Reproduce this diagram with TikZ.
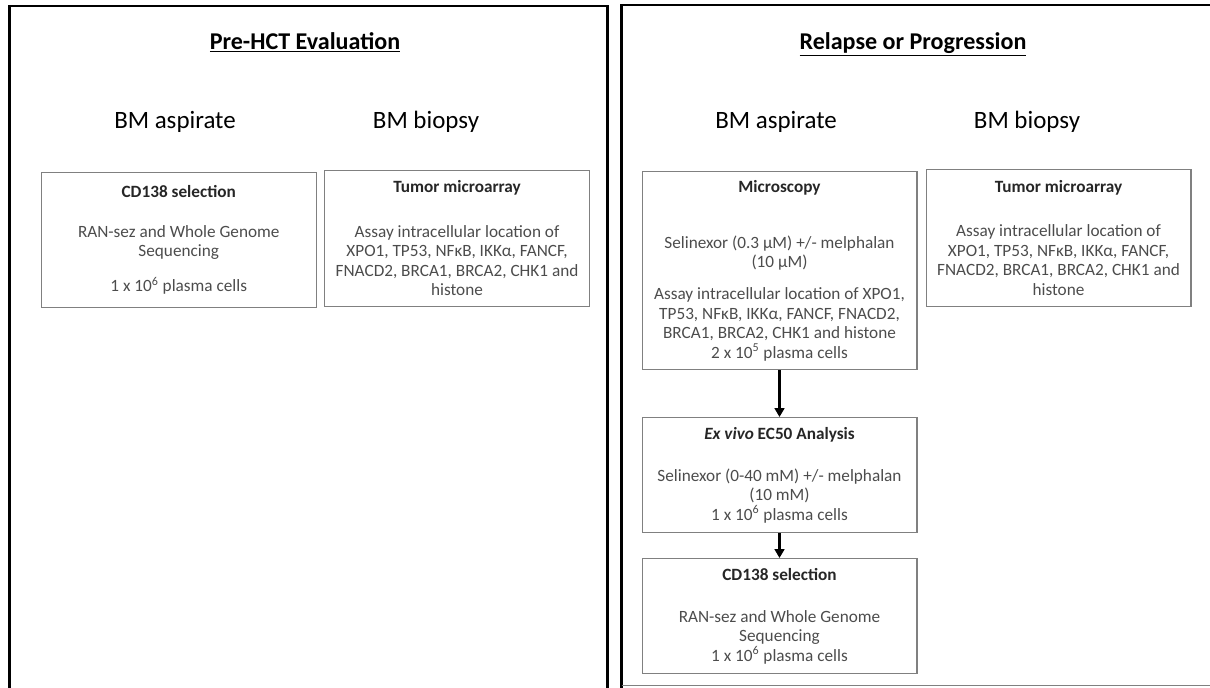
\documentclass[tikz,border=0pt]{standalone}
\usepackage{fontspec}
\setmainfont{Carlito}
\usetikzlibrary{arrows.meta}

\definecolor{boxgray}{gray}{0.5}
\definecolor{textgray}{gray}{0.3}
\tikzset{
  panel/.style={line width=1.7pt, draw=black},
  stagebox/.style={draw=boxgray, line width=0.6pt, anchor=north, align=center,
    inner sep=2pt, text=textgray, font=\fontsize{9.8}{11.1}\selectfont},
  widebox/.style={stagebox, minimum width=5.5cm},
  narrowbox/.style={stagebox, minimum width=5.3cm},
  sampletitle/.style={font=\fontsize{14.2}{16}\selectfont},
  paneltitle/.style={anchor=base, font=\bfseries\fontsize{13.7}{16}\selectfont},
  flowarrow/.style={line width=1.2pt, -{Triangle[length=5pt,width=5.5pt]}}
}
\newcommand{\boxhead}[1]{\textbf{\color{black!85}#1}}

\begin{document}
\begin{tikzpicture}[x=0.02cm, y=-0.02cm]
    \useasboundingbox (0,0) rectangle (1210,687);
    \clip (0,0) rectangle (1210,687);
    % the two panels
    \draw[panel] (9.5,6) rectangle (607,700);
    \draw[panel] (621.5,700) |- (1220,5);
    \draw[boxgray, line width=0.6pt] (621.5,685.5) -- (1220,685.5);
    % titles
    \node[paneltitle] (pre) at (305,49) {\underline{Pre-HCT Evaluation}};
    \node[paneltitle] (rel) at (913,49) {\underline{Relapse or Progression}};
    \node[sampletitle] (aspL) at (175,122) {BM aspirate};
    \node[sampletitle] (bioL) at (426,122) {BM biopsy};
    \node[sampletitle] (aspR) at (776,122) {BM aspirate};
    \node[sampletitle] (bioR) at (1027,122) {BM biopsy};
    % pre-HCT boxes
    \node[widebox, minimum height=2.7cm] (cdL) at (178.75,172)
      {\boxhead{CD138 selection}\\[11.4pt]
       RAN-sez and Whole Genome\\
       Sequencing\\[9pt]
       1 x 10\textsuperscript{6} plasma cells};
    \node[narrowbox, minimum height=2.73cm] (tmaL) at (457,169.5)
      {\boxhead{Tumor microarray}\\[14pt]
       Assay intracellular location of\\
       XPO1, TP53, NFκB, IKKα, FANCF,\\
       FNACD2, BRCA1, BRCA2, CHK1 and\\
       histone};
    % relapse boxes
    \node[widebox, minimum height=3.96cm] (micro) at (779.5,171)
      {\boxhead{Microscopy}\\[21pt]
       Selinexor (0.3 µM) +/- melphalan\\
       (10 µM)\\[7pt]
       Assay intracellular location of XPO1,\\
       TP53, NFκB, IKKα, FANCF, FNACD2,\\
       BRCA1, BRCA2, CHK1 and histone\\
       2 x 10\textsuperscript{5} plasma cells};
    \node[narrowbox, minimum height=2.74cm] (tmaR) at (1058.5,169)
      {\boxhead{Tumor microarray}\\[14pt]
       Assay intracellular location of\\
       XPO1, TP53, NFκB, IKKα, FANCF,\\
       FNACD2, BRCA1, BRCA2, CHK1 and\\
       histone};
    \node[widebox, minimum height=2.3cm] (exvivo) at (779.5,417)
      {\boxhead{\textit{Ex vivo} EC50 Analysis}\\[13pt]
       Selinexor (0-40 mM) +/- melphalan\\
       (10 mM)\\
       1 x 10\textsuperscript{6} plasma cells};
    \node[widebox, minimum height=2.3cm] (cdR) at (779.5,558)
      {\boxhead{CD138 selection}\\[13pt]
       RAN-sez and Whole Genome\\
       Sequencing\\
       1 x 10\textsuperscript{6} plasma cells};
    % flow
    \draw[flowarrow] (micro) -- (exvivo);
    \draw[flowarrow] (exvivo) -- (cdR);
\end{tikzpicture}
\end{document}
